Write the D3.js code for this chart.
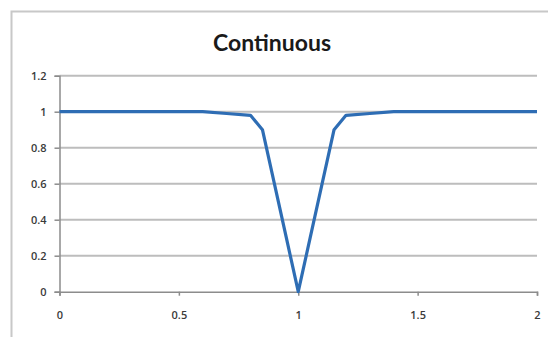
<!DOCTYPE html>
<html>
<head>
<meta charset="utf-8">
<script src="https://cdn.jsdelivr.net/npm/d3@7"></script>
<style>
  body { margin: 0; background: #fff; }
  svg { display: block; }
  .tick text { font-family: "Open Sans", sans-serif; font-size: 11px; font-weight: 600; fill: #3a3a3a; }
</style>
</head>
<body>
<svg id="chart" width="548" height="337"></svg>
<script>
"use strict"

/****** DATA ******/
const xValues = [0, 0.1, 0.2, 0.3, 0.4, 0.5, 0.6, 0.7, 0.8, 0.85, 0.9, 0.95, 1, 1.05, 1.1, 1.15, 1.2, 1.3, 1.4, 1.5, 1.6, 1.7, 1.8, 1.9, 2]
const yValues = [1, 1, 1, 1, 1, 1, 1, 0.99, 0.98, 0.9, 0.6, 0.3, 0, 0.3, 0.6, 0.9, 0.98, 0.99, 1, 1, 1, 1, 1, 1, 1]
const xTicks = [0, 0.5, 1, 1.5, 2]
const yTicks = [0, 0.2, 0.4, 0.6, 0.8, 1, 1.2]
const title = 'Continuous'

const svg = d3.select('#chart')
const margin = {left: 59.5, right: 11, top: 75.7, bottom: 45.3}
const width = 548, height = 337

// outer chart frame (cropped on right and bottom)
svg.append('path')
  .attr('d', 'M11.5,337 L11.5,11.5 L548,11.5')
  .attr('fill', 'none')
  .attr('stroke', '#c8c8c8')
  .attr('stroke-width', 2)

svg.append('text')
  .attr('x', 272).attr('y', 51)
  .attr('text-anchor', 'middle')
  .attr('font-family', 'Lato, "Open Sans", sans-serif')
  .attr('font-weight', 'bold')
  .attr('font-size', 23)
  .attr('fill', '#1a1a1a')
  .text(title)

const x = d3.scaleLinear().domain([0, 2]).range([margin.left, width - margin.right])
const y = d3.scaleLinear().domain([0, 1.2]).range([height - margin.bottom, margin.top])

// gridlines
svg.append('g')
  .selectAll('line')
  .data(yTicks.filter(d => d > 0))
  .enter().append('line')
    .attr('x1', x(0)).attr('x2', x(2))
    .attr('y1', d => y(d)).attr('y2', d => y(d))
    .attr('stroke', '#bdbdbd')
    .attr('stroke-width', 2)

const yAxis = svg.append('g')
  .attr('transform', `translate(${x(0)},0)`)
  .call(d3.axisLeft(y).tickValues(yTicks).tickFormat(d3.format('~g')).tickSize(5).tickPadding(8))
yAxis.select('.domain').attr('stroke', '#8c8c8c').attr('stroke-width', 1.5)
yAxis.selectAll('.tick line').attr('stroke', '#8c8c8c').attr('stroke-width', 1.5)

const xAxis = svg.append('g')
  .attr('transform', `translate(0,${y(0)})`)
  .call(d3.axisBottom(x).tickValues(xTicks).tickFormat(d3.format('~g')).tickSize(4).tickPadding(16))
xAxis.select('.domain').attr('stroke', '#8c8c8c').attr('stroke-width', 1.5)
xAxis.selectAll('.tick line').attr('stroke', '#8c8c8c').attr('stroke-width', 1.5)

const line = d3.line()
  .x(d => x(d[0]))
  .y(d => y(d[1]))

svg.append('path')
  .datum(d3.zip(xValues, yValues))
  .attr('d', line)
  .attr('fill', 'none')
  .attr('stroke', '#2e6db4')
  .attr('stroke-width', 3.2)
  .attr('stroke-linejoin', 'round')
</script>
</body>
</html>
